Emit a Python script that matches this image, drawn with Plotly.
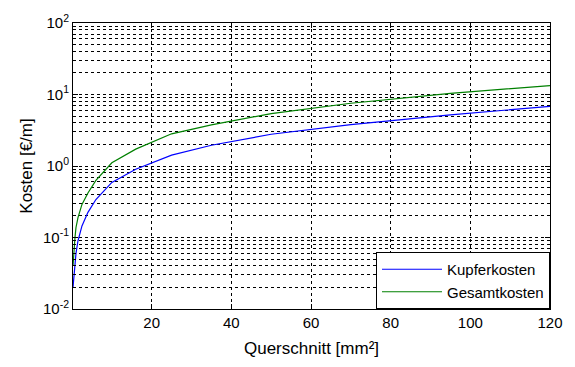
import plotly.graph_objects as go

querschnitt = [0.25, 0.5, 0.75, 1, 1.5, 2.5, 4, 6, 10, 16, 25, 35, 50, 70, 95, 120]
kupferkosten = [0.02, 0.032, 0.045, 0.06, 0.09, 0.145, 0.225, 0.34, 0.59, 0.9, 1.42, 1.95, 2.78, 3.8, 5.2, 6.82]
gesamtkosten = [0.04, 0.07, 0.1, 0.138, 0.19, 0.29, 0.42, 0.63, 1.11, 1.72, 2.82, 3.76, 5.4, 7.55, 10.4, 13.3]

y_tickvals = [0.01, 0.1, 1, 10, 100]
y_ticktext = ["10<sup>-2</sup>", "10<sup>-1</sup>", "10<sup>0</sup>", "10<sup>1</sup>", "10<sup>2</sup>"]
x_tickvals = [20, 40, 60, 80, 100, 120]

font_family = "Liberation Sans, Arial, sans-serif"

fig = go.Figure()
fig.add_trace(go.Scatter(x=querschnitt, y=kupferkosten, mode="lines",
                         name="Kupferkosten", line=dict(color="#0000FF", width=1.2)))
fig.add_trace(go.Scatter(x=querschnitt, y=gesamtkosten, mode="lines",
                         name="Gesamtkosten", line=dict(color="#008000", width=1.2)))

fig.update_layout(
    width=575, height=367,
    margin=dict(l=73, r=21, t=20, b=53),
    paper_bgcolor="white", plot_bgcolor="white",
    font=dict(family=font_family, size=15, color="black"),
    showlegend=True,
    legend=dict(x=1, y=0, xanchor="right", yanchor="bottom",
                bgcolor="white", bordercolor="black", borderwidth=1,
                font=dict(size=15), tracegroupgap=0, itemwidth=60),
)
fig.update_xaxes(
    range=[0.25, 120], tickvals=x_tickvals,
    showline=True, linecolor="black", linewidth=1, mirror="ticks",
    ticks="inside", ticklen=5, tickcolor="black",
    showgrid=True, gridcolor="black", griddash="dot", gridwidth=1,
    zeroline=False,
    title=dict(text="Querschnitt [mm²]", font=dict(size=17), standoff=12),
)
fig.update_yaxes(
    type="log", range=[-2, 2], tickvals=y_tickvals, ticktext=y_ticktext,
    showline=True, linecolor="black", linewidth=1, mirror="ticks",
    ticks="inside", ticklen=5, tickcolor="black",
    showgrid=True, gridcolor="black", griddash="dot", gridwidth=1,
    minor=dict(dtick="D1", showgrid=True, gridcolor="black", griddash="dot",
               gridwidth=1, ticks="inside", ticklen=3, tickcolor="black"),
    zeroline=False,
    title=dict(text="Kosten [€/m]", font=dict(size=17), standoff=6),
)

fig.write_html("out.html")
